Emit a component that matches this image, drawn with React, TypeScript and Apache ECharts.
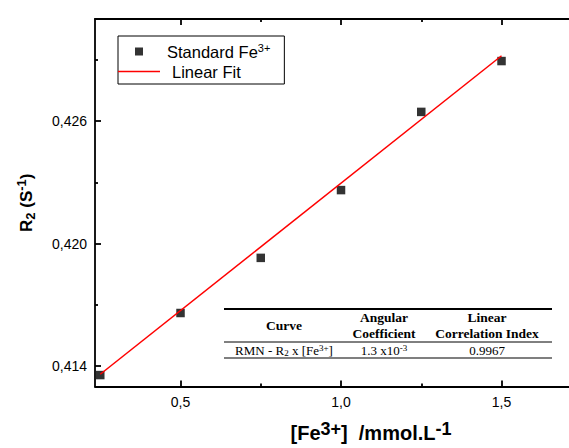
import React, { useEffect, useRef } from 'react';
import * as echarts from 'echarts';

// ---- data ----
const concentrations = [0.25, 0.5, 0.75, 1.0, 1.25, 1.5];
const r2Values = [0.41356, 0.4166, 0.4193, 0.42262, 0.42645, 0.42894];
const fitConcentrations = [0.25, 1.5];
const fitValues = [0.4136, 0.4292];
const xMajorTicks = [0.5, 1.0, 1.5];
const xMinorTicks = [0.75, 1.25];
const yMajorTicks = [0.414, 0.42, 0.426];
const yMinorTicks = [0.417, 0.423, 0.429];
const tableHeaders = ['Curve', 'Angular\nCoefficient', 'Linear\nCorrelation Index'];
const tableRow = ['RMN - R{sub|2} x [Fe{sup|3+}]', '1.3 x10{sup|-3}', '0.9967'];
const seriesNames = ['Standard Fe3+', 'Linear Fit'];

const X_MIN = 0.2336;
const X_MAX = 1.7102;
const Y_MIN = 0.413;
const Y_MAX = 0.431;

const SANS = 'Liberation Sans';
const SERIF = 'Liberation Serif';
const AXIS_COLOR = '#000';

export default function App() {
  const ref = useRef<HTMLDivElement>(null);
  useEffect(() => {
    if (!ref.current) return;
    const chart = echarts.init(ref.current, undefined, { renderer: 'svg' });

    const axisLineStyle = { color: AXIS_COLOR, width: 1.8 };
    const xFmt = (v: number) => v.toFixed(1).replace('.', ',');
    const yFmt = (v: number) => v.toFixed(3).replace('.', ',');

    const baseX = {
      type: 'value',
      min: X_MIN,
      max: X_MAX,
      splitLine: { show: false },
      axisLine: { show: true, onZero: false, lineStyle: axisLineStyle },
    };
    const baseY = {
      type: 'value',
      min: Y_MIN,
      max: Y_MAX,
      splitLine: { show: false },
      axisLine: { show: true, onZero: false, lineStyle: axisLineStyle },
    };

    const colCenters = [284, 384, 487];
    const headerStyle = { fontFamily: SERIF, fontWeight: 'bold', fontSize: 13.5 };
    const rowRich = {
      sub: { fontFamily: SERIF, fontSize: 9, verticalAlign: 'bottom', lineHeight: 14 },
      sup: { fontFamily: SERIF, fontSize: 9, verticalAlign: 'top', lineHeight: 14 },
    };

    const tableGraphics: any[] = [
      { type: 'line', shape: { x1: 224, y1: 309, x2: 552, y2: 309 }, style: { stroke: '#000', lineWidth: 2 } },
      { type: 'line', shape: { x1: 224, y1: 342, x2: 552, y2: 342 }, style: { stroke: '#000', lineWidth: 1 } },
      { type: 'line', shape: { x1: 224, y1: 358, x2: 552, y2: 358 }, style: { stroke: '#000', lineWidth: 1.2 } },
    ];
    tableHeaders.forEach((h, i) => {
      tableGraphics.push({
        type: 'text',
        x: colCenters[i],
        y: 325.5,
        style: {
          text: h,
          ...headerStyle,
          fill: '#000',
          lineHeight: 15.5,
          align: 'center',
          verticalAlign: 'middle',
          textAlign: 'center',
          textVerticalAlign: 'middle',
        },
      });
    });
    tableRow.forEach((t, i) => {
      tableGraphics.push({
        type: 'text',
        x: colCenters[i],
        y: 350,
        style: {
          text: t,
          fontFamily: SERIF,
          fontSize: 13,
          fill: '#000',
          align: 'center',
          verticalAlign: 'middle',
          textAlign: 'center',
          textVerticalAlign: 'middle',
          rich: {
            sub: { ...rowRich.sub },
            sup: { ...rowRich.sup },
          },
        },
      });
    });

    const boldRich = (size: number, supSize: number, lh: number) => ({
      b: { fontFamily: SANS, fontWeight: 'bold', fontSize: size, color: '#000', lineHeight: lh },
      sup: { fontFamily: SANS, fontWeight: 'bold', fontSize: supSize, color: '#000', verticalAlign: 'top', lineHeight: lh },
      sub: { fontFamily: SANS, fontWeight: 'bold', fontSize: supSize, color: '#000', verticalAlign: 'bottom', lineHeight: lh },
    });

    chart.setOption({
      animation: false,
      backgroundColor: '#fff',
      grid: { left: 95, right: 0, top: 19, bottom: 60, containLabel: false },
      legend: {
        left: 118,
        top: 36,
        orient: 'vertical',
        padding: [6, 14, 4, 0],
        itemGap: 3,
        itemWidth: 42,
        itemHeight: 8,
        symbolKeepAspect: true,
        borderColor: '#000',
        borderWidth: 1,
        backgroundColor: '#fff',
        data: [
          { name: seriesNames[0], icon: 'path://M0,0H10V10H0Z' },
          { name: seriesNames[1], icon: 'path://M0,0H42V1.5H0Z' },
        ],
        formatter: (name: string) =>
          name === seriesNames[0] ? '{m|Standard Fe}{sup|3+}' : '{l|Linear Fit}',
        textStyle: {
          fontFamily: SANS,
          fontSize: 16.5,
          color: '#000',
          rich: {
            m: { fontFamily: SANS, fontSize: 16.5, color: '#000', padding: [0, 0, 0, 2], lineHeight: 19 },
            sup: { fontFamily: SANS, fontSize: 11, color: '#000', verticalAlign: 'top', lineHeight: 19 },
            l: { fontFamily: SANS, fontSize: 16.5, color: '#000', padding: [0, 0, 0, 7], lineHeight: 19 },
          },
        },
      },
      xAxis: [
        {
          ...baseX,
          position: 'bottom',
          axisTick: { show: true, inside: true, length: 6, customValues: xMajorTicks, lineStyle: axisLineStyle },
          axisLabel: {
            show: true,
            customValues: xMajorTicks,
            formatter: xFmt,
            margin: 8,
            fontFamily: SANS,
            fontSize: 14,
            color: '#000',
          },
          name: '{b|[Fe}{sup|3+}{b|]  /mmol.L}{sup|-1}',
          nameLocation: 'middle',
          nameGap: 33,
          nameTextStyle: { padding: [0, 0, 0, 78], rich: boldRich(20, 18, 27) },
        },
        {
          ...baseX,
          position: 'bottom',
          axisLine: { show: false, onZero: false },
          axisTick: { show: true, inside: true, length: 3, customValues: xMinorTicks, lineStyle: axisLineStyle },
          axisLabel: { show: false },
        },
        {
          ...baseX,
          position: 'top',
          axisTick: { show: true, inside: true, length: 6, customValues: xMajorTicks, lineStyle: axisLineStyle },
          axisLabel: { show: false },
        },
        {
          ...baseX,
          position: 'top',
          axisLine: { show: false, onZero: false },
          axisTick: { show: true, inside: true, length: 3, customValues: xMinorTicks, lineStyle: axisLineStyle },
          axisLabel: { show: false },
        },
      ],
      yAxis: [
        {
          ...baseY,
          position: 'left',
          axisTick: { show: true, inside: true, length: 6, customValues: yMajorTicks, lineStyle: axisLineStyle },
          axisLabel: {
            show: true,
            customValues: yMajorTicks,
            formatter: yFmt,
            margin: 8,
            fontFamily: SANS,
            fontSize: 14,
            color: '#000',
          },
          name: '{b|R}{sub|2}{b| (S}{sup|-1}{b|)}',
          nameLocation: 'middle',
          nameGap: 58,
          nameTextStyle: { rich: boldRich(17, 13, 22) },
        },
        {
          ...baseY,
          position: 'left',
          axisLine: { show: false, onZero: false },
          axisTick: { show: true, inside: true, length: 3, customValues: yMinorTicks, lineStyle: axisLineStyle },
          axisLabel: { show: false },
        },
      ],
      series: [
        {
          name: seriesNames[0],
          type: 'scatter',
          xAxisIndex: 0,
          yAxisIndex: 0,
          symbol: 'rect',
          symbolSize: 8.5,
          itemStyle: { color: '#000' },
          data: concentrations.map((x, i) => [x, r2Values[i]]),
          z: 2,
        },
        {
          name: seriesNames[1],
          type: 'line',
          xAxisIndex: 0,
          yAxisIndex: 0,
          symbol: 'none',
          showSymbol: false,
          lineStyle: { color: '#ff0000', width: 1.5 },
          itemStyle: { color: '#ff0000' },
          data: fitConcentrations.map((x, i) => [x, fitValues[i]]),
          z: 3,
        },
      ],
      graphic: tableGraphics,
    });
    return () => chart.dispose();
  }, []);
  return (
    <div
      ref={ref}
      style={{ position: 'fixed', left: 0, top: 0, width: 569, height: 448 }}
    />
  );
}
